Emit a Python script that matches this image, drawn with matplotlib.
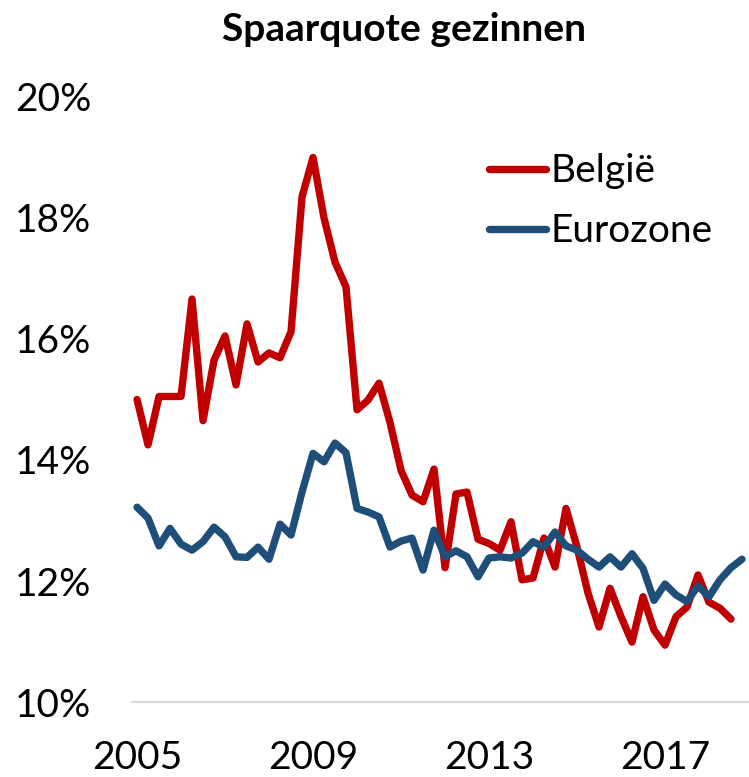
import matplotlib
matplotlib.use("Agg")
import matplotlib.pyplot as plt
from matplotlib.ticker import FuncFormatter
import numpy as np

# kwartaalcijfers, 2005K1 .. 2018K3 (België) en 2005K1 .. 2018K4 (eurozone), in %
belgie = [15.0, 14.25, 15.05, 15.05, 15.05, 16.66, 14.65, 15.65, 16.05, 15.24,
          16.25, 15.62, 15.77, 15.69, 16.12, 18.35, 19.0, 18.0, 17.27, 16.86,
          14.83, 14.99, 15.27, 14.62, 13.83, 13.42, 13.31, 13.85, 12.22, 13.44,
          13.47, 12.69, 12.62, 12.51, 12.98, 12.02, 12.05, 12.71, 12.23, 13.2,
          12.56, 11.8, 11.24, 11.88, 11.41, 10.99, 11.74, 11.19, 10.94, 11.41,
          11.57, 12.1, 11.65, 11.55, 11.37]
eurozone = [13.22, 13.04, 12.58, 12.87, 12.61, 12.51, 12.65, 12.89, 12.73, 12.4,
            12.39, 12.56, 12.36, 12.94, 12.76, 13.47, 14.11, 13.97, 14.28, 14.12,
            13.2, 13.14, 13.06, 12.56, 12.66, 12.71, 12.18, 12.84, 12.4, 12.5,
            12.4, 12.07, 12.38, 12.4, 12.38, 12.46, 12.65, 12.56, 12.81, 12.58,
            12.51, 12.36, 12.23, 12.4, 12.23, 12.45, 12.21, 11.68, 11.95, 11.77,
            11.66, 11.92, 11.74, 12.02, 12.22, 12.36]
start_jaar = 2005
jaar_labels = [2005, 2009, 2013, 2017]

plt.rcParams['font.family'] = ['Lato', 'DejaVu Sans']

fig = plt.figure(figsize=(7.49, 7.77), dpi=100)
ax = fig.add_axes([0.1756, 0.0965, 0.8224, 0.7787])

x_be = start_jaar + np.arange(len(belgie)) / 4
x_ez = start_jaar + np.arange(len(eurozone)) / 4

ax.plot(x_be, belgie, color='#C00000', lw=5.3, solid_joinstyle='round',
        solid_capstyle='round', label='België')
ax.plot(x_ez, eurozone, color='#1F4E79', lw=5.3, solid_joinstyle='round',
        solid_capstyle='round', label='Eurozone')

ax.set_ylim(10, 20)
ax.set_xlim(start_jaar - 0.125, x_ez[-1] + 0.125)
ax.set_yticks(np.arange(10, 21, 2))
ax.yaxis.set_major_formatter(FuncFormatter(lambda v, p: '%d%%' % v))
ax.set_xticks(jaar_labels)
ax.set_xticklabels([str(j) for j in jaar_labels])
ax.tick_params(axis='both', length=0, labelsize=28)
ax.tick_params(axis='y', pad=29)
ax.tick_params(axis='x', pad=27)

for kant in ['top', 'right', 'left']:
    ax.spines[kant].set_visible(False)
ax.spines['bottom'].set_color('#D9D9D9')
ax.spines['bottom'].set_linewidth(1.5)

ax.legend(loc='upper right', bbox_to_anchor=(1.0, 0.965), frameon=False,
          fontsize=28, handlelength=1.45, handletextpad=0.12, labelspacing=0.62)

fig.text(0.54, 0.962, 'Spaarquote gezinnen', ha='center', va='center',
         fontsize=28, fontweight='bold')

fig.savefig('out.png', dpi=100)
